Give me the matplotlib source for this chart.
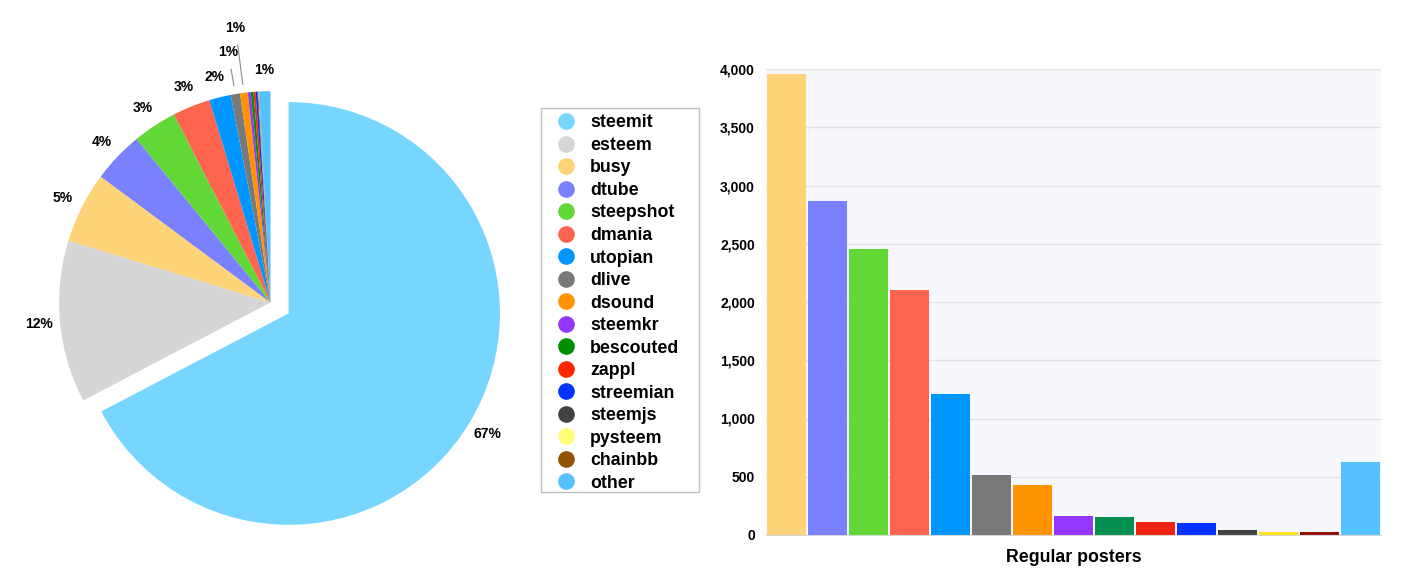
import numpy as np
import matplotlib
matplotlib.use("Agg")
import matplotlib.pyplot as plt
from matplotlib.lines import Line2D
from matplotlib.patches import Rectangle

plt.rcParams['font.family'] = ['Liberation Sans', 'DejaVu Sans']
plt.rcParams['font.weight'] = 'bold'

# datos: publicadores regulares por app
apps = ['steemit', 'esteem', 'busy', 'dtube', 'steepshot', 'dmania', 'utopian',
        'dlive', 'dsound', 'steemkr', 'bescouted', 'zappl', 'streemian',
        'steemjs', 'pysteem', 'chainbb', 'other']
posters = [49150, 9050, 3960, 2870, 2455, 2105, 1210, 515, 430, 163, 155,
           112, 103, 43, 26, 25, 627]

pie_colors = ['#76D6FF', '#D6D6D6', '#FFD479', '#7A81FF', '#61D836', '#FF644E',
              '#0096FF', '#797979', '#FF9300', '#9437FF', '#008F00', '#FF2600',
              '#0433FF', '#424242', '#FFFC79', '#945200', '#56C1FF']
bar_colors = ['#FFD479', '#7A81FF', '#61D836', '#FF644E', '#0096FF', '#797979',
              '#FF9300', '#9437FF', '#008F51', '#EE2211', '#0433FF', '#424242',
              '#FFE11A', '#941100', '#56C1FF']

bg = '#F7F8FE'
fig = plt.figure(figsize=(14.14, 5.86), dpi=100)

# ---- pie ----
ax1 = fig.add_axes([38/1414, 51/586, 465/1414, 465/586])
ax1.set_facecolor(bg)
explode = [0.1] + [0] * (len(apps) - 1)
wedges, _ = ax1.pie(posters, colors=pie_colors, startangle=90, counterclock=False,
                    explode=explode, wedgeprops=dict(linewidth=0))
ax1.set_xlim(-1.1, 1.1)
ax1.set_ylim(-1.1, 1.1)
ax1.set_axis_on()
ax1.set_xticks([])
ax1.set_yticks([])
for s in ax1.spines.values():
    s.set_visible(False)

total = sum(posters)
for i, w in enumerate(wedges):
    pct = 100 * posters[i] / total
    if pct < 0.5:
        continue
    ang = np.deg2rad((w.theta1 + w.theta2) / 2)
    cx, cy = w.center
    txt = '%d%%' % round(pct)
    if apps[i] in ('dlive', 'dsound'):
        r = 1.2 if apps[i] == 'dlive' else 1.31
        ax1.annotate(txt, xy=(cx + 1.04*np.cos(ang), cy + 1.04*np.sin(ang)),
                     xytext=(cx + r*np.cos(ang), cy + r*np.sin(ang)),
                     ha='center', va='center', fontsize=10,
                     arrowprops=dict(arrowstyle='-', color='#8C8C8C', lw=0.8,
                                     shrinkA=5, shrinkB=0))
    else:
        ax1.text(cx + 1.1*np.cos(ang), cy + 1.1*np.sin(ang), txt,
                 ha='center', va='center', fontsize=10)

# leyenda con marco propio
fig.patches.append(Rectangle((541/1414, 1 - 492/586), 158/1414, 384/586,
                             transform=fig.transFigure, fill=False,
                             edgecolor='#BFBFBF', lw=1))
handles = [Line2D([], [], marker='o', linestyle='', markersize=12,
                  markerfacecolor=c, markeredgewidth=0) for c in pie_colors]
leg = fig.legend(handles, apps, loc='upper left',
                 bbox_to_anchor=(541/1414, 1 - 110/586), fontsize=12.8,
                 frameon=False, labelspacing=0.31, handletextpad=0.2,
                 borderpad=0.25, borderaxespad=0, handlelength=2.3)

# ---- bars ----
ax2 = fig.add_axes([766/1414, 51/586, 615/1414, 466/586])
ax2.set_facecolor(bg)
x = np.arange(len(apps) - 2)
ax2.bar(x, posters[2:], width=0.93, color=bar_colors, zorder=2)
ax2.set_xlim(-0.5, len(x) - 0.5)
ax2.set_ylim(0, 4000)
ax2.set_yticks(np.arange(0, 4001, 500))
ax2.set_yticklabels(['{:,}'.format(v) for v in range(0, 4001, 500)])
ax2.yaxis.grid(True, color='#E2E2E2', lw=1, zorder=0)
ax2.set_xticks([])
ax2.tick_params(axis='y', length=0, pad=8, labelsize=10)
for s in ['top', 'right', 'left']:
    ax2.spines[s].set_visible(False)
ax2.spines['bottom'].set_color('#D5D5D5')
ax2.set_xlabel('Regular posters', fontsize=12.8, fontweight='bold', labelpad=10)

plt.savefig('out.png', dpi=100)
